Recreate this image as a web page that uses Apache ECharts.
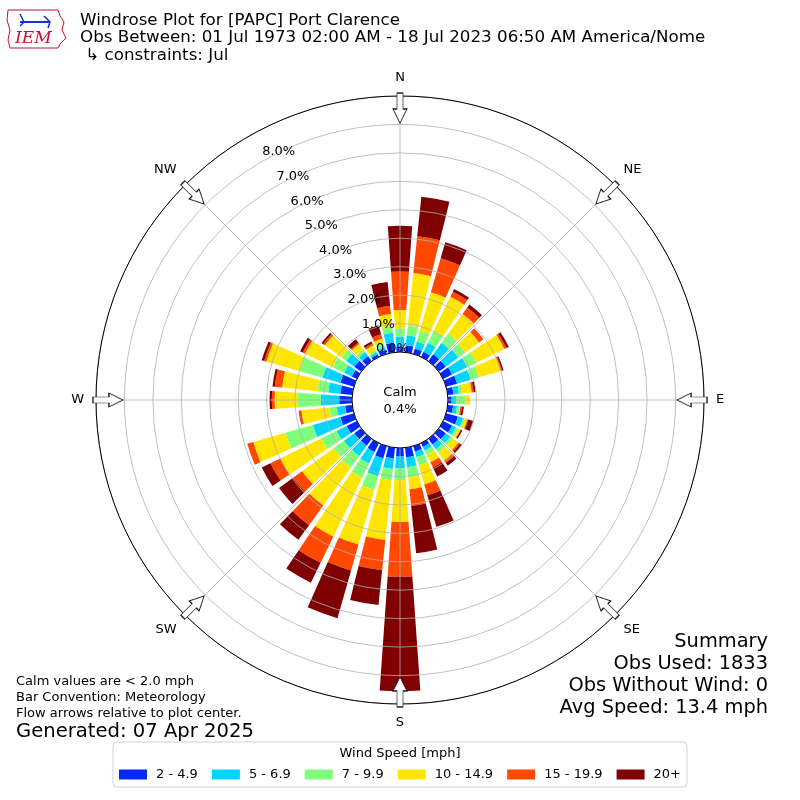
<!DOCTYPE html>
<html>
<head>
<meta charset="utf-8">
<script src="https://cdn.jsdelivr.net/npm/echarts/dist/echarts.min.js"></script>
<style>
html,body{margin:0;padding:0;background:#fff;}
#c{width:800px;height:800px;}
</style>
</head>
<body>
<div id="c"></div>
<script>
// ---- data (percent of observations) ----
const directions = ['0','10','20','30','40','50','60','70','80','90','100','110','120','130','140','150','160','170',
  '180','190','200','210','220','230','240','250','260','270','280','290','300','310','320','330','340','350'];
const speedBins = ['2 - 4.9', '5 - 6.9', '7 - 9.9', '10 - 14.9', '15 - 19.9', '20+'];
const binColors = ['#0028ff', '#00d4ff', '#7dff7a', '#ffe600', '#ff4800', '#7f0000'];

const pct2to5 = [0.19,0.25,0.20,0.20,0.30,0.30,0.35,0.40,0.20,0.13,0.19,0.43,0.35,0.30,0.25,0.15,0.20,0.34,
  0.30,0.38,0.45,0.35,0.30,0.30,0.40,0.50,0.25,0.45,0.42,0.50,0.20,0.30,0.22,0.10,0.15,0.34];
const pct5to7 = [0.35,0.35,0.25,0.35,0.50,0.55,0.60,0.50,0.20,0.15,0.14,0.19,0.15,0.20,0.20,0.15,0.20,0.35,
  0.42,0.37,0.65,0.45,0.45,0.45,0.40,1.00,0.30,0.65,0.43,0.65,0.30,0.35,0.18,0.08,0.10,0.35];
const pct7to10 = [0.29,0.35,0.40,0.45,0.40,0.30,0.35,0.30,0.12,0.35,0.10,0.06,0.10,0.10,0.15,0.15,0.30,0.36,
  0.41,0.40,0.50,0.55,0.50,0.45,0.60,1.00,0.26,0.82,0.38,0.85,0.45,0.20,0.10,0.07,0.15,0.24];
const pct10to15 = [0.65,1.85,1.40,1.35,0.85,0.60,1.10,0.80,0.33,0.14,0.02,0.10,0.08,0.25,0.35,0.30,0.70,0.42,
  1.47,2.11,2.00,2.31,1.65,1.37,1.60,1.18,0.99,0.80,1.25,1.20,1.08,0.73,0.25,0.20,0.15,0.42];
const pct15to20 = [1.35,1.30,1.25,0.20,0.28,0.19,0.08,0.05,0.07,0.00,0.05,0.03,0.02,0.07,0.10,0.20,0.40,0.59,
  1.93,1.07,0.95,1.02,0.85,0.39,0.38,0.22,0.07,0.10,0.26,0.08,0.09,0.07,0.05,0.07,0.17,0.29];
const pct20plus = [1.61,1.40,0.58,0.10,0.13,0.00,0.09,0.05,0.07,0.00,0.07,0.18,0.05,0.08,0.12,0.35,1.15,1.67,
  4.02,1.23,1.74,0.78,0.64,0.61,0.34,0.00,0.02,0.08,0.08,0.09,0.10,0.07,0.15,0.08,0.33,0.84];

const compassLabels = ['N', 'NE', 'E', 'SE', 'S', 'SW', 'W', 'NW'];
const compassAngles = [0, 45, 90, 135, 180, 225, 270, 315];
const radialTicks = [0, 1, 2, 3, 4, 5, 6, 7, 8];
const calmPct = 0.4;

const titleLines = [
  'Windrose Plot for [PAPC] Port Clarence',
  'Obs Between: 01 Jul 1973 02:00 AM - 18 Jul 2023 06:50 AM America/Nome',
  ' \u21B3 constraints: Jul'
];
const summaryLines = ['Summary', 'Obs Used: 1833', 'Obs Without Wind: 0', 'Avg Speed: 13.4 mph'];
const noteLines = ['Calm values are < 2.0 mph', 'Bar Convention: Meteorology', 'Flow arrows relative to plot center.'];
const generatedText = 'Generated: 07 Apr 2025';
const legendTitle = 'Wind Speed [mph]';

// ---- chart ----
const binSeries = [pct2to5, pct5to7, pct7to10, pct10to15, pct15to20, pct20plus];
const FONT = 'DejaVu Sans';
const chart = echarts.init(document.getElementById('c'));

const polarRadius = [48, 304];
const rMax = 9;

const graphics = [];
titleLines.forEach((t, i) => graphics.push({
  type: 'text', left: 80, top: 12 + i * 17.5,
  style: {text: t, font: '16.7px "DejaVu Sans"', fill: '#000'}
}));
summaryLines.forEach((t, i) => graphics.push({
  type: 'text', right: 32, top: 632 + i * 22,
  style: {text: t, font: '19.4px "DejaVu Sans"', fill: '#000', textAlign: 'right'}
}));
noteLines.forEach((t, i) => graphics.push({
  type: 'text', left: 16, top: 675 + i * 16,
  style: {text: t, font: '13px "DejaVu Sans"', fill: '#000'}
}));
graphics.push({type: 'text', left: 16, top: 722,
  style: {text: generatedText, font: '19.6px "DejaVu Sans"', fill: '#000'}});
graphics.push({type: 'text', left: 'center', top: 747, z: 100,
  style: {text: legendTitle, font: '13px "DejaVu Sans"', fill: '#000'}});
graphics.push({type: 'text', left: 'center', top: 384, z: 100,
  style: {text: 'Calm\n' + calmPct.toFixed(1) + '%', font: '13px "DejaVu Sans"', fill: '#000', textAlign: 'center', lineHeight: 17}});
// logo
graphics.push({type: 'polyline', z: 50,
  shape: {points: [[8,10],[58,10],[60,16],[64,22],[62,30],[66,38],[60,44],[58,48],[10,48],[8,40],[10,30],[7,20],[8,10]]},
  style: {stroke: '#c8102e', fill: 'none', lineWidth: 1}});
graphics.push({type: 'text', left: 15, top: 30, z: 51,
  style: {text: 'IEM', font: 'italic 17px "DejaVu Serif"', fill: '#c8102e'}});
graphics.push({type: 'polyline', z: 51,
  shape: {points: [[20,22],[50,22]]}, style: {stroke: '#1a2fd6', lineWidth: 2}});
graphics.push({type: 'polyline', z: 51,
  shape: {points: [[20,14],[24,22],[20,26]]}, style: {stroke: '#1a2fd6', lineWidth: 1.5, fill: 'none'}});
graphics.push({type: 'polyline', z: 51,
  shape: {points: [[44,16],[50,22],[48,28]]}, style: {stroke: '#1a2fd6', lineWidth: 1.5, fill: 'none'}});

const option = {
  animation: false,
  textStyle: {fontFamily: FONT},
  graphic: graphics,
  legend: {
    data: speedBins,
    left: 'center', top: 742,
    padding: [26, 6, 6, 6],
    itemWidth: 28, itemHeight: 10, itemGap: 14,
    icon: 'rect',
    borderColor: '#d0d0d0', borderWidth: 1, borderRadius: 4,
    textStyle: {fontSize: 13, color: '#000', fontFamily: FONT, padding: [0, 0, 0, 4]}
  },
  polar: [
    {center: ['50%', '50%'], radius: polarRadius},
    {center: ['50%', '50%'], radius: polarRadius},
    {center: ['50%', '50%'], radius: polarRadius}
  ],
  angleAxis: [
    {polarIndex: 0, type: 'category', data: directions, startAngle: 95, clockwise: true,
      axisLine: {show: false}, axisTick: {show: false}, axisLabel: {show: false}, splitLine: {show: false}},
    {polarIndex: 1, type: 'value', min: 0, max: 360, interval: 45, startAngle: 90, clockwise: true, z: 5,
      axisLine: {show: true, lineStyle: {color: '#000', width: 1}},
      axisTick: {show: false},
      axisLabel: {show: true, margin: 12, fontSize: 13, color: '#000', fontFamily: FONT,
        formatter: v => { const i = compassAngles.indexOf(v); return i >= 0 ? compassLabels[i] : ''; }},
      splitLine: {show: true, lineStyle: {color: '#b0b0b0', width: 0.8}}},
    {polarIndex: 2, type: 'value', min: 0, max: 360, startAngle: 120, clockwise: true,
      axisLine: {show: false}, axisTick: {show: false}, axisLabel: {show: false}, splitLine: {show: false}}
  ],
  radiusAxis: [
    {polarIndex: 0, type: 'value', min: 0, max: rMax,
      axisLine: {show: false}, axisTick: {show: false}, axisLabel: {show: false}, splitLine: {show: false}},
    {polarIndex: 1, type: 'value', min: 0, max: rMax, interval: 1, z: 5,
      axisLine: {show: false}, axisTick: {show: false}, axisLabel: {show: false},
      splitLine: {show: true, lineStyle: {color: '#b0b0b0', width: 0.8}}},
    {polarIndex: 2, type: 'value', min: 0, max: rMax, interval: 1, z: 6,
      axisLine: {show: false}, axisTick: {show: false}, splitLine: {show: false},
      axisLabel: {show: true, inside: true, margin: -19, align: 'center', verticalAlign: 'middle',
        fontSize: 13, color: '#000', fontFamily: FONT,
        formatter: v => radialTicks.indexOf(v) >= 0 ? v.toFixed(1) + '%' : ''}}
  ],
  series: speedBins.map((name, i) => ({
    type: 'bar', name, coordinateSystem: 'polar', polarIndex: 0, stack: 'ws',
    data: binSeries[i], itemStyle: {color: binColors[i]}, barCategoryGap: '20%', z: 2, silent: true
  })).concat([{
    type: 'scatter', coordinateSystem: 'polar', polarIndex: 1, silent: true, z: 10,
    data: compassAngles.map(a => ({value: [8.58, a], symbolRotate: -a})),
    symbol: 'path://M4,0L10,0L10,16L14,16L7,30L0,16L4,16Z',
    symbolSize: [14, 30],
    itemStyle: {color: '#fff', borderColor: '#222', borderWidth: 1, opacity: 1}
  }])
};
chart.setOption(option);
</script>
</body>
</html>
